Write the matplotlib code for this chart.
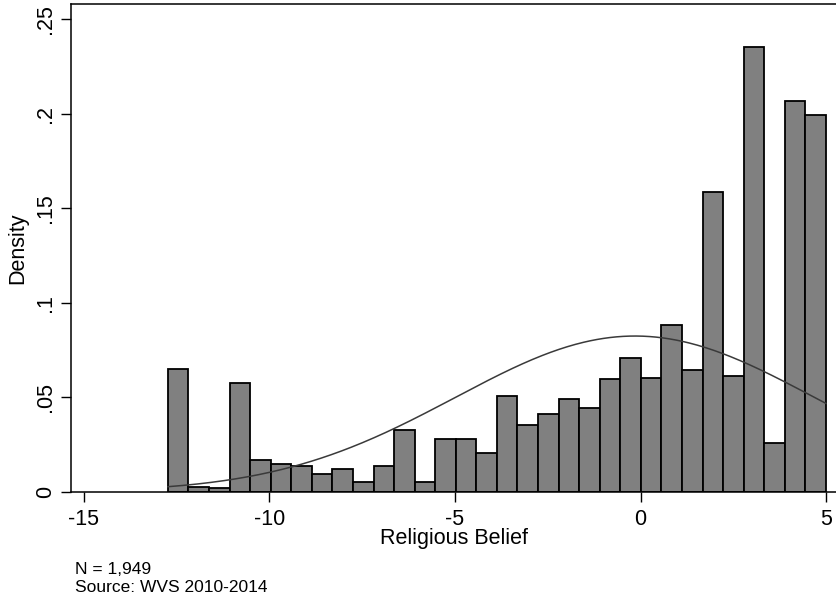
import numpy as np
import matplotlib
matplotlib.use("Agg")
import matplotlib.pyplot as plt

# ---- data ----
bin_min = -12.74
bin_max = 5.0
densities = [0.065, 0.0028, 0.002, 0.0578, 0.0167, 0.0148, 0.0139, 0.0094,
             0.0122, 0.0055, 0.0138, 0.0328, 0.0055, 0.0278, 0.0278, 0.0205,
             0.0509, 0.0354, 0.0411, 0.0492, 0.0446, 0.0596, 0.0707, 0.0604,
             0.0883, 0.0643, 0.1584, 0.0613, 0.2354, 0.0261, 0.2068, 0.1993]
norm_mean = -0.15
norm_sd = 4.84
x_ticks = [-15, -10, -5, 0, 5]
y_ticks = [0, 0.05, 0.1, 0.15, 0.2, 0.25]
y_ticklabels = ["0", ".05", ".1", ".15", ".2", ".25"]
x_label = "Religious Belief"
y_label = "Density"
note_lines = ["N = 1,949", "Source: WVS 2010-2014"]

plt.rcParams['font.family'] = ['Liberation Sans', 'DejaVu Sans']

W, H = 837, 603
fig = plt.figure(figsize=(W / 100, H / 100), dpi=100)
left_px, right_px, top_px, bottom_px = 71, 837, 4, 492
ax = fig.add_axes([left_px / W, 1 - bottom_px / H,
                   (right_px - left_px) / W, (bottom_px - top_px) / H])

n_bins = len(densities)
edges = np.linspace(bin_min, bin_max, n_bins + 1)
ax.bar(edges[:-1], densities, width=np.diff(edges), align='edge',
       color='#808080', edgecolor='black', linewidth=1.3, zorder=2)

xs = np.linspace(bin_min, bin_max, 400)
pdf = np.exp(-0.5 * ((xs - norm_mean) / norm_sd) ** 2) / (norm_sd * np.sqrt(2 * np.pi))
ax.plot(xs, pdf, color='#3a3a3a', linewidth=1.1, zorder=3)

ax.set_xlim(-15.35, 5.296)
ax.set_ylim(0, 0.2579)
ax.set_xticks(x_ticks)
ax.set_xticklabels([str(t) for t in x_ticks])
ax.set_yticks(y_ticks)
ax.set_yticklabels(y_ticklabels, rotation=90, va='center')
ax.tick_params(axis='both', length=7, width=1, color='black', labelsize=15.5)
ax.tick_params(axis='x', pad=5)
ax.tick_params(axis='y', pad=4)

for s in ['left', 'bottom', 'top']:
    ax.spines[s].set_linewidth(1.1)
    ax.spines[s].set_color('black')
ax.spines['right'].set_visible(False)

ax.set_xlabel(x_label, fontsize=15.5, labelpad=-1)
ax.set_ylabel(y_label, fontsize=15.5, labelpad=5)

fig.text(75 / W, 1 - 570 / H, note_lines[0], fontsize=12.5, va='center', ha='left')
fig.text(75 / W, 1 - 587 / H, note_lines[1], fontsize=12.5, va='center', ha='left')

fig.savefig("out.png", dpi=100)
